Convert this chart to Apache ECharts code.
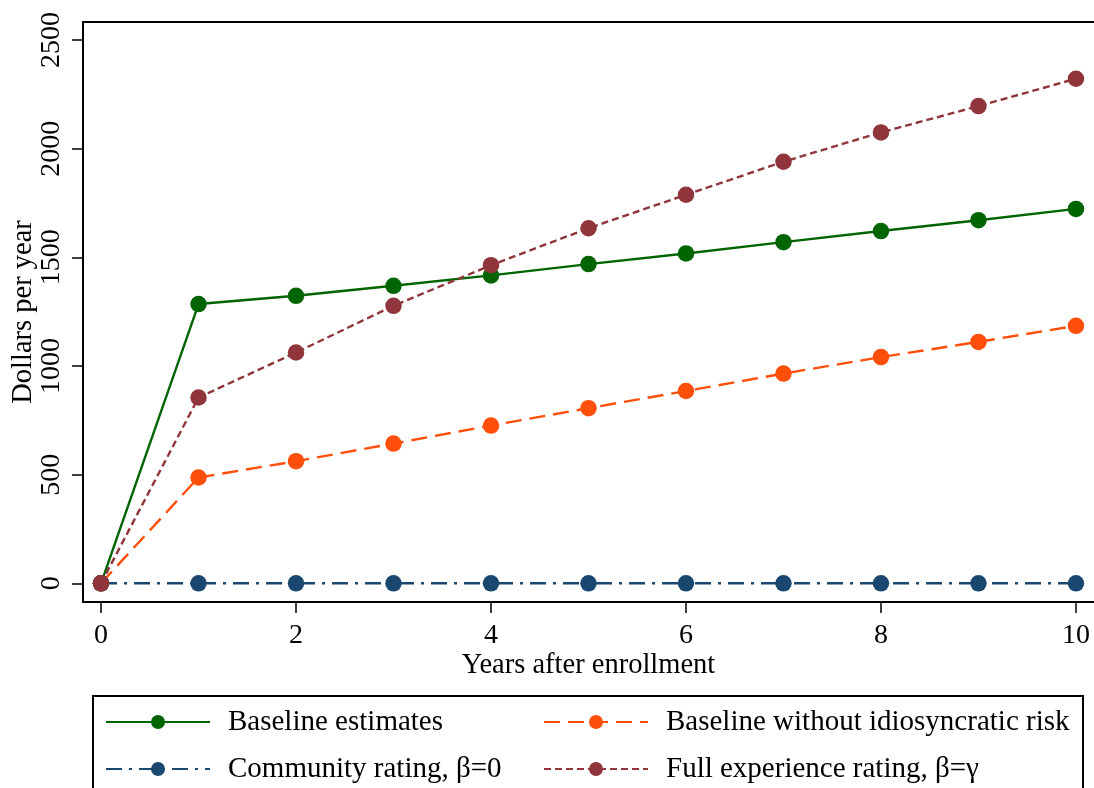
<!DOCTYPE html>
<html>
<head>
<meta charset="utf-8">
<script src="https://cdn.jsdelivr.net/npm/echarts@6/dist/echarts.min.js"></script>
<style>
html,body{margin:0;padding:0;background:#fff;}
#chart{width:1094px;height:788px;}
</style>
</head>
<body>
<div id="chart"></div>
<script>
const years = [0, 1, 2, 3, 4, 5, 6, 7, 8, 9, 10];
const baselineEstimates = [0, 1285, 1323, 1369, 1417, 1469, 1518, 1570, 1621, 1671, 1723];
const baselineNoIdio = [0, 487, 562, 643, 726, 806, 885, 965, 1041, 1111, 1185];
const communityRating = [0, 0, 0, 0, 0, 0, 0, 0, 0, 0, 0];
const fullExperience = [0, 855, 1062, 1277, 1464, 1634, 1788, 1940, 2075, 2196, 2322];
const xTicks = [0, 2, 4, 6, 8, 10];
const yTicks = [0, 500, 1000, 1500, 2000, 2500];
const names = ['Baseline estimates', 'Baseline without idiosyncratic risk', 'Community rating, \u03B2=0', 'Full experience rating, \u03B2=\u03B3'];

const FONT = '"Liberation Serif", "DejaVu Serif", serif';
const pairs = arr => years.map((x, i) => [x, arr[i]]);

const chart = echarts.init(document.getElementById('chart'), null, {renderer: 'canvas'});
const mk = (name, data, color, dash) => ({
  name, type: 'line', data: pairs(data),
  symbol: 'circle', symbolSize: 16.5, showSymbol: true,
  itemStyle: {color},
  lineStyle: {color, width: 2.4, type: dash},
  emphasis: {disabled: true},
  animation: false
});

chart.setOption({
  animation: false,
  textStyle: {fontFamily: FONT},
  grid: {left: 83, right: 0, top: 22, bottom: 186, containLabel: false, outerBoundsMode: 'none'},
  xAxis: [{
    type: 'value', min: -0.185, max: 10.185,
    splitLine: {show: false},
    axisLine: {show: true, onZero: false, lineStyle: {color: '#000', width: 2}},
    axisTick: {show: true, length: 11, customValues: xTicks, lineStyle: {color: '#000', width: 1.5}},
    axisLabel: {customValues: xTicks, color: '#000', fontSize: 28, fontFamily: FONT, margin: 20,
      formatter: v => String(v)},
    name: 'Years after enrollment', nameLocation: 'middle', nameGap: 49, nameMoveOverlap: false,
    nameTextStyle: {color: '#000', fontSize: 28.5, fontFamily: FONT}
  }, {
    type: 'value', position: 'top', min: -0.185, max: 10.185,
    splitLine: {show: false},
    axisLine: {show: true, onZero: false, lineStyle: {color: '#000', width: 2}},
    axisTick: {show: false}, axisLabel: {show: false}
  }],
  yAxis: {
    type: 'value', min: -86, max: 2583,
    splitLine: {show: false},
    axisLine: {show: true, onZero: false, lineStyle: {color: '#000', width: 2}},
    axisTick: {show: true, length: 11, customValues: yTicks, lineStyle: {color: '#000', width: 1.5}},
    axisLabel: {customValues: yTicks, rotate: 90, color: '#000', fontSize: 28, fontFamily: FONT, margin: 17,
      formatter: v => String(v)},
    name: 'Dollars per year', nameLocation: 'middle', nameGap: 45, nameRotate: 90, nameMoveOverlap: false,
    nameTextStyle: {color: '#000', fontSize: 28.5, fontFamily: FONT}
  },
  legend: [{
    data: [names[0], names[2]], orient: 'vertical', left: 105, top: 706,
    padding: 0, itemWidth: 104, itemHeight: 17.5, itemGap: 15,
    textStyle: {color: '#000', fontSize: 29, fontFamily: FONT, lineHeight: 32, padding: [0, 0, 0, 13]},
    selectedMode: false
  }, {
    data: [names[1], names[3]], orient: 'vertical', left: 543, top: 706,
    padding: 0, itemWidth: 104, itemHeight: 17.5, itemGap: 15,
    textStyle: {color: '#000', fontSize: 29, fontFamily: FONT, lineHeight: 32, padding: [0, 0, 0, 13]},
    selectedMode: false
  }],
  graphic: [{
    type: 'rect', z: -1, silent: true,
    shape: {x: 93, y: 696, width: 990, height: 120},
    style: {fill: '#fff', stroke: '#000', lineWidth: 2}
  }],
  series: [
    mk(names[0], baselineEstimates, '#006400', 'solid'),
    mk(names[1], baselineNoIdio, '#FF4F0A', [16, 8]),
    mk(names[2], communityRating, '#1A476F', [16, 7, 3, 7]),
    mk(names[3], fullExperience, '#90353B', [7, 4])
  ]
});
</script>
</body>
</html>
